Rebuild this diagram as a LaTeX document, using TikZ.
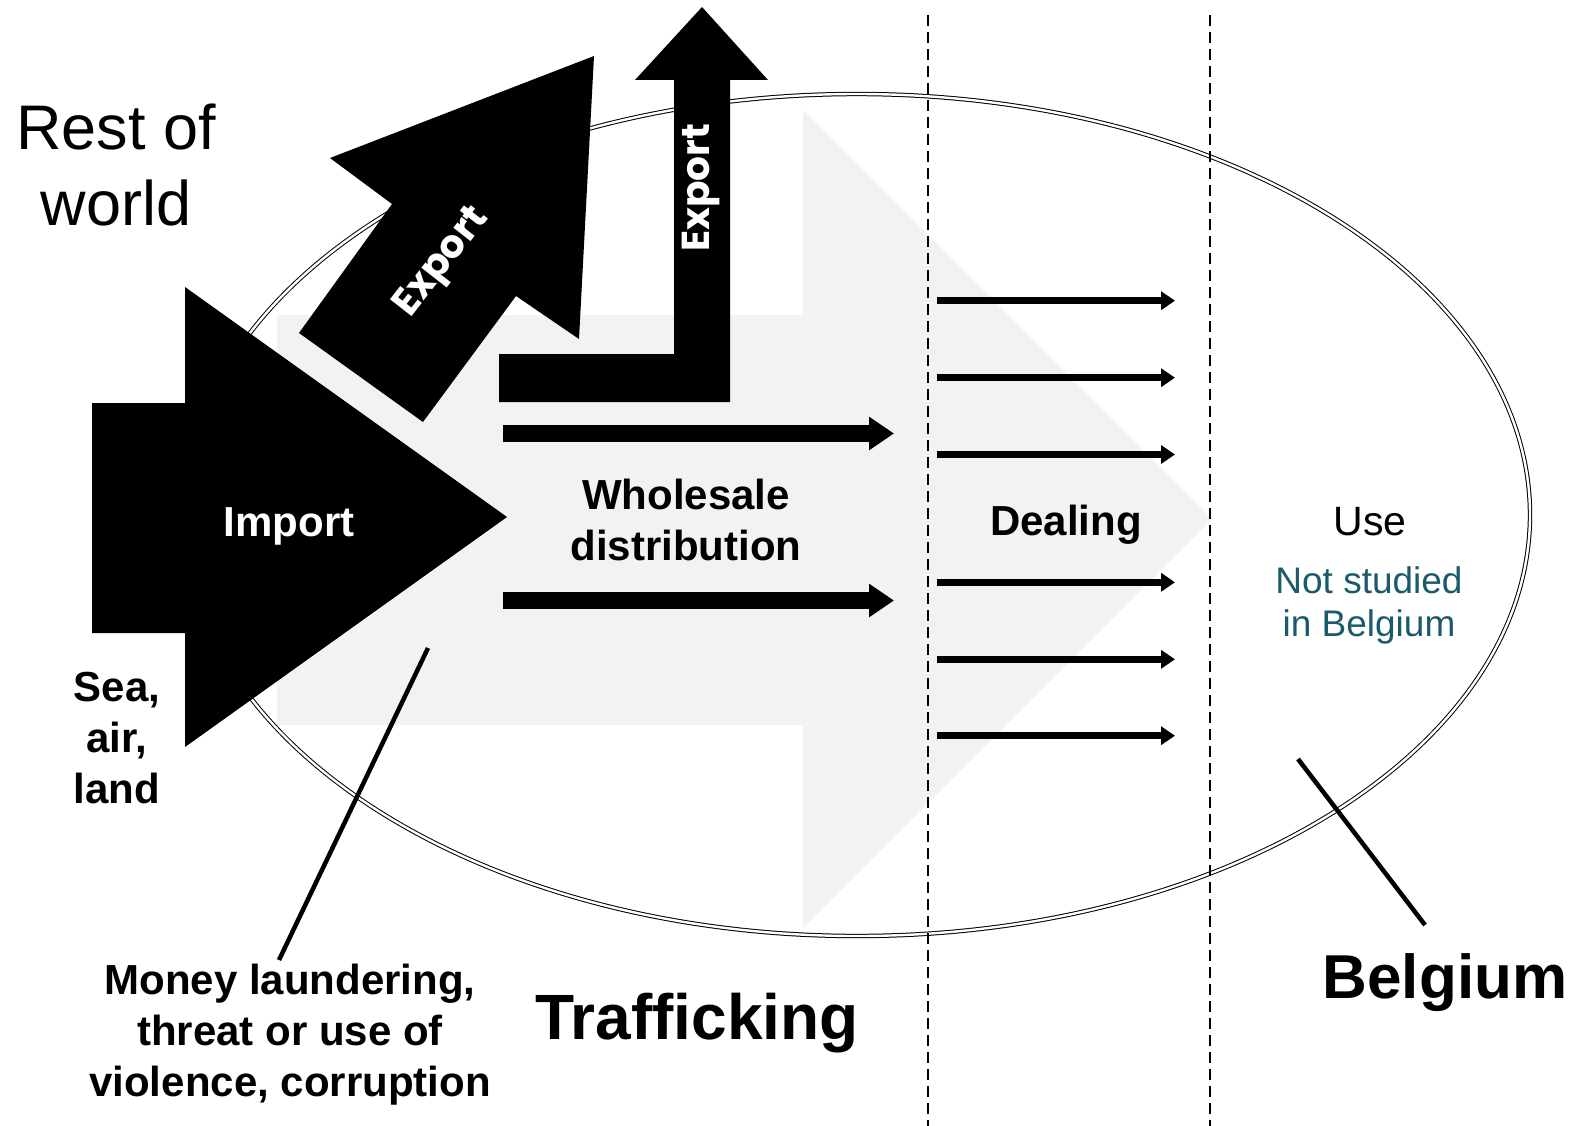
\documentclass[tikz,border=0pt]{standalone}
\usepackage{fontspec}
\setmainfont{Liberation Sans}
\newfontfamily\expfont{Poppins}
\usetikzlibrary{arrows.meta}
\definecolor{arrowgray}{HTML}{F2F2F2}
\definecolor{tealtext}{HTML}{1B5A6B}
\begin{document}
\begin{tikzpicture}[x=1pt,y=-1pt,
  boldtext/.style={font=\fontsize{42}{51}\selectfont\bfseries, inner sep=0pt, align=center},
  whitelabel/.style={font=\fontsize{42}{51}\selectfont\bfseries, text=white, inner sep=0pt},
  explabel/.style={font=\fontsize{39}{45}\selectfont\expfont\bfseries, text=white, inner sep=0pt},
  blackshape/.style={fill=black},
  wholesalearrow/.style={line width=17pt, -{Triangle[length=25pt,width=32pt]}},
  dealarrow/.style={line width=7pt, -{Triangle[length=14pt,width=18pt]}},
  divider/.style={line width=2.8pt, dash pattern=on 11pt off 6pt},
  pointer/.style={line width=4.5pt}]
\useasboundingbox (0,0) rectangle (1573,1126);

% big grey background arrow
\fill[arrowgray] (277,315) -- (803,315) -- (803,110) -- (1212,519) -- (803,928) -- (803,725) -- (277,725) -- cycle;

% Belgium ellipse (double line)
\draw[line width=1pt, double=white, double distance=2.4pt] (857,515) ellipse [x radius=673, y radius=421];

% dashed dividers
\coordinate (d1t) at (928,15);
\coordinate (d1b) at (928,1126);
\coordinate (d2t) at (1210,15);
\coordinate (d2b) at (1210,1126);
\draw[divider] (d1t) -- (d1b);
\draw[divider] (d2t) -- (d2b);

% import arrow
\fill[blackshape] (92,403) -- (185,403) -- (185,287) -- (507,517) -- (185,747) -- (185,633) -- (92,633) -- cycle;

% tilted export arrow
\fill[blackshape] (594,56) -- (579,339) -- (516,296) -- (423,422) -- (299,333) -- (392,204) -- (330,158) -- cycle;

% L-shaped export arrow
\fill[blackshape] (499,354) -- (674,354) -- (674,80) -- (635,80) -- (702,7) -- (768,80) -- (730,80) -- (730,402) -- (499,402) -- cycle;

% wholesale arrows
\coordinate (w1s) at (503,433.5);
\coordinate (w1e) at (894,433.5);
\coordinate (w2s) at (503,600.5);
\coordinate (w2e) at (894,600.5);
\draw[wholesalearrow] (w1s) -- (w1e);
\draw[wholesalearrow] (w2s) -- (w2e);

% dealing arrows
\foreach \yy [count=\i] in {300.7,377.7,454.5,582.3,659.3,735.7}{
  \coordinate (ds\i) at (937,\yy);
  \coordinate (de\i) at (1175,\yy);
  \draw[dealarrow] (ds\i) -- (de\i);
}

% pointer lines
\coordinate (p1a) at (428,648);
\coordinate (p1b) at (279,960);
\coordinate (p2a) at (1298,759);
\coordinate (p2b) at (1425,925);
\draw[pointer] (p1a) -- (p1b);
\draw[pointer] (p2a) -- (p2b);

% texts
\node[font=\fontsize{63}{76}\selectfont, inner sep=0pt, align=center] (rest) at (116,165) {Rest of\\world};
\node[whitelabel, anchor=base] (import) at (289,536) {Import};
\node[explabel, rotate=52] (exp1) at (443,263) {Export};
\node[explabel, rotate=90] (exp2) at (701,188) {Export};
\node[boldtext] (whole) at (686,520) {Wholesale\\distribution};
\node[boldtext, anchor=base] (deal) at (1066,535) {Dealing};
\node[font=\fontsize{41}{50}\selectfont, inner sep=0pt, anchor=base] (use) at (1370,535) {Use};
\node[font=\fontsize{37}{43}\selectfont, text=tealtext, inner sep=0pt, align=center] (notstudied) at (1369,605) {Not studied\\in Belgium};
\node[boldtext] (sea) at (117,738) {Sea,\\air,\\land};
\node[boldtext] (money) at (290,1035) {Money laundering,\\threat or use of\\violence, corruption};
\node[font=\fontsize{64}{76}\selectfont\bfseries, inner sep=0pt, anchor=base] (traff) at (697,1039) {Trafficking};
\node[font=\fontsize{62}{74}\selectfont\bfseries, inner sep=0pt, anchor=base] (belg) at (1445,998) {Belgium};
\end{tikzpicture}
\end{document}
